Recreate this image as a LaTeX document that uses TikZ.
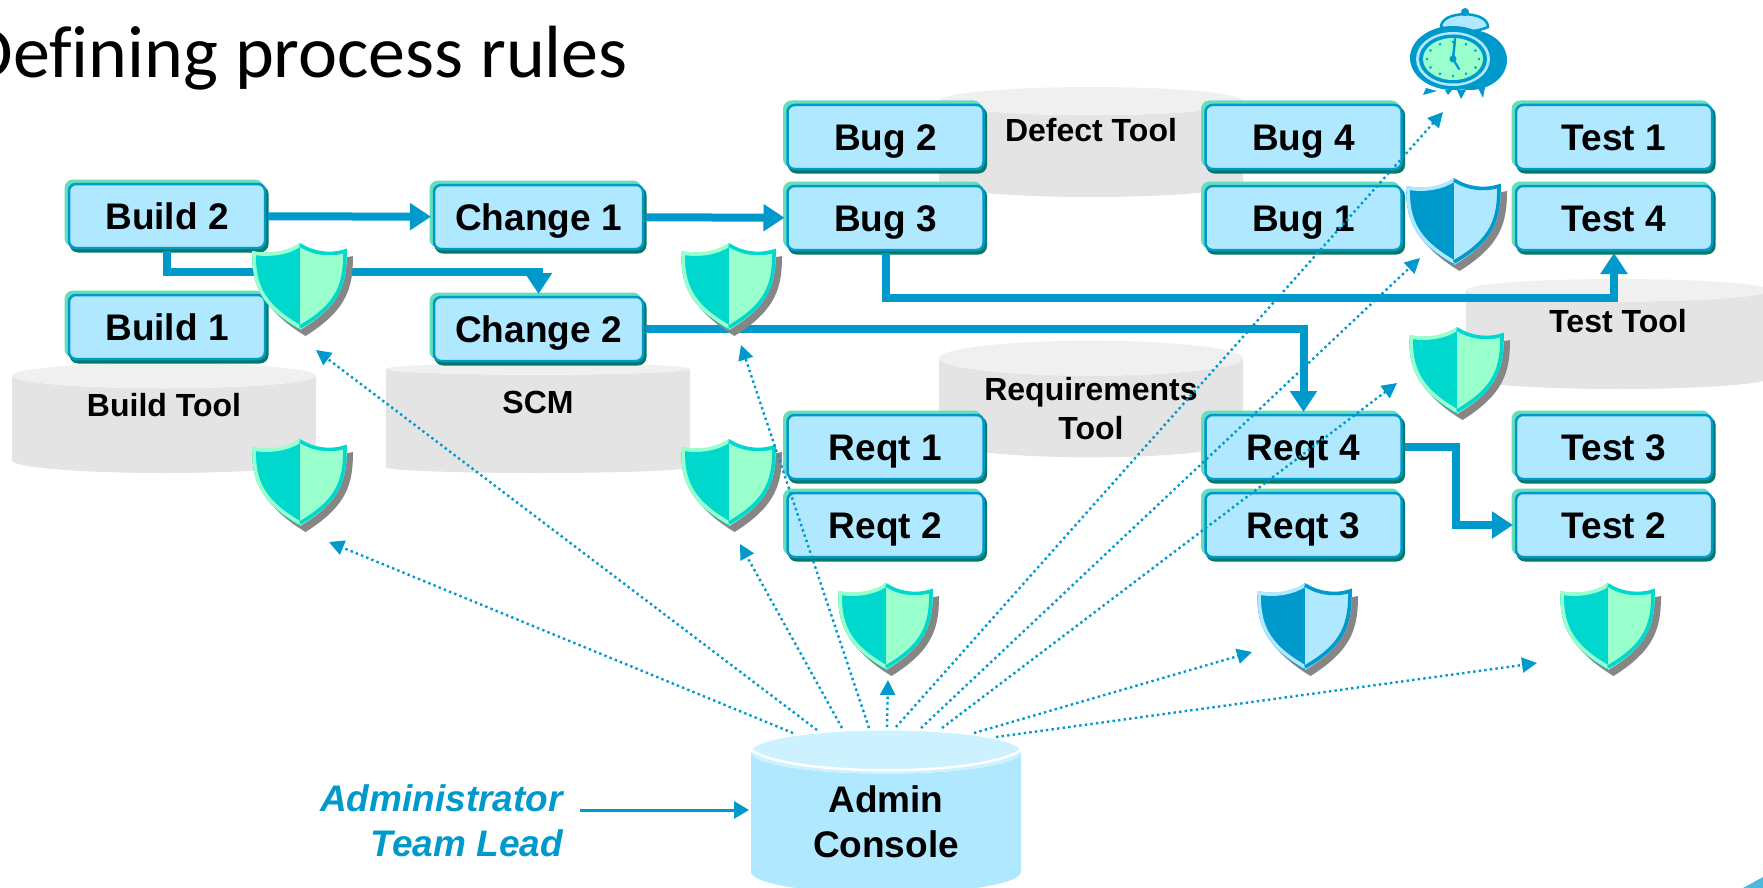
\documentclass[tikz,border=0pt]{standalone}
\usepackage{fontspec}
\setmainfont{Liberation Sans}
\newfontfamily\titlefont[Ligatures=NoCommon]{Carlito}
\usetikzlibrary{arrows.meta, calc, positioning, shapes.geometric}
\definecolor{flowblue}{HTML}{0099CC}
\definecolor{boxface}{HTML}{B0E8FF}
\definecolor{boxlight}{HTML}{66DDBB}
\definecolor{boxdark}{HTML}{007A66}
\definecolor{toolbody}{HTML}{E4E4E4}
\definecolor{toolend}{HTML}{F0F0F0}
\definecolor{adminend}{HTML}{CCF2FF}
\definecolor{shieldteal}{HTML}{00D8CE}
\definecolor{shieldmint}{HTML}{99FFCC}
\definecolor{shieldshade}{HTML}{868686}
\tikzset{
    stagebox/.style={rectangle, rounded corners=7pt, draw=flowblue, fill=boxface, line width=2.5pt,
        minimum width=196pt, minimum height=64pt, inner sep=0pt, outer sep=3pt, text height=26pt, text depth=0pt,
        font=\fontsize{37}{44}\selectfont\bfseries,
        preaction={draw=boxlight, fill=boxlight, line width=3pt, transform canvas={xshift=-3pt, yshift=3pt}},
        preaction={draw=boxdark, fill=boxdark, line width=3pt, transform canvas={xshift=2pt, yshift=-3pt}}},
    widebox/.style={stagebox, minimum width=209pt},
    toolcyl/.style={cylinder, shape border rotate=90, aspect=0.164, minimum width=304pt, minimum height=110pt,
        cylinder uses custom fill, cylinder body fill=toolbody, cylinder end fill=toolend, anchor=shape center,
        inner sep=0pt, outer sep=0pt, align=center, font=\fontsize{32}{39}\selectfont\bfseries},
    toolcap/.style={toolcyl, text height=24pt, text depth=40pt},
    flow/.style={draw=flowblue, line width=8pt, -{Triangle[length=21pt, width=26pt]}},
    watch/.style={draw=flowblue, line width=2.4pt, dash pattern=on 2.4pt off 3.2pt, -{Triangle[length=15pt, width=15pt]}},
    pics/guard/.style 2 args={code={
        \fill[shieldshade] (5.5,5) .. controls (-7,14) and (-25,17) .. (-43,13) .. controls (-43,45) and (-37,67) .. (5.5,93)
            .. controls (47,67) and (53,45) .. (53,13) .. controls (35,17) and (17,14) .. (5.5,5) -- cycle;
        \fill[#1] (0,0) .. controls (-12,9) and (-30,12) .. (-48,8) .. controls (-48,40) and (-42,62) .. (0,87) -- cycle;
        \fill[#2] (0,0) .. controls (12,9) and (30,12) .. (47,6) .. controls (47,40) and (42,62) .. (0,87) -- cycle;
        \draw[#2, line width=3.6pt] (0,2) .. controls (-12,10) and (-30,13) .. (-46,10) .. controls (-46,40) and (-40,61) .. (0,84);
        \draw[#1, line width=3.6pt] (0,2) .. controls (12,10) and (30,13) .. (45,8) .. controls (45,40) and (40,61) .. (0,84);
    }}
}
\begin{document}
\begin{tikzpicture}[x=1pt, y=-1pt]
    \useasboundingbox (0,0) rectangle (1763,888);
    \node[anchor=base east, inner sep=0pt, font=\fontsize{74}{88}\selectfont\titlefont] (title) at (628,78) {Defining process rules};

    % tools behind the boxes
    \node[toolcap] (buildtool) at (164,418) {Build Tool};
    \node[toolcap] (scmtool) at (538,418) {SCM};
    \node[toolcap] (defecttool) at (1091,142) {Defect Tool};
    \node[toolcyl, text height=64pt, text depth=0pt] (reqttool) at (1091,399) {Requirements\\Tool};
    \begin{scope}
        \clip (0,0) rectangle (1763,888);
        \node[toolcap, text depth=38pt] (testtool) at (1618,334) {Test Tool};
        \node[toolcyl, cylinder body fill=boxface, cylinder end fill=adminend, minimum width=270pt, aspect=0.296,
            minimum height=163pt, text height=70pt, font=\fontsize{37}{45}\selectfont\bfseries] (admin) at (886,812) {Admin\\Console};
    \end{scope}
    \draw[white, line width=2.5pt] (751,750) .. controls (790,777) and (982,777) .. (1021,750);

    \node[stagebox] (buildtwo) at (167,216) {Build 2};
    \node[stagebox] (buildone) at (167,327) {Build 1};
    \node[widebox] (changeone) at (538.5,217) {Change 1};
    \node[widebox] (changetwo) at (538.5,329) {Change 2};
    \node[stagebox] (bugtwo) at (885.5,137) {Bug 2};
    \node[stagebox] (bugthree) at (885.5,218) {Bug 3};
    \node[stagebox] (reqtone) at (885.5,447) {Reqt 1};
    \node[stagebox] (reqttwo) at (885.5,525) {Reqt 2};
    \node[stagebox] (bugfour) at (1303.5,137) {Bug 4};
    \node[stagebox] (bugone) at (1303.5,218) {Bug 1};
    \node[stagebox] (reqtfour) at (1303.5,447) {Reqt 4};
    \node[stagebox] (reqtthree) at (1303.5,525) {Reqt 3};
    \node[stagebox] (testone) at (1614,137) {Test 1};
    \node[stagebox] (testfour) at (1614,218) {Test 4};
    \node[stagebox] (testthree) at (1614,447) {Test 3};
    \node[stagebox] (testtwo) at (1614,525) {Test 2};

    % process flow
    \draw[flow] (buildtwo) -- (changeone);
    \draw[flow] (changeone) -- (bugthree);
    \draw[flow] (buildtwo.south) -- ++(0,21) -| (changetwo.north);
    \draw[flow] (bugthree.south) -- ++(0,45) -| (testfour.south);
    \draw[flow] (changetwo.east) -| (reqtfour.north);
    \draw[flow] (reqtfour.east) -- ++(51,0) |- (testtwo.west);

    \foreach \pos in {(300,243),(729,243),(300,439),(729,439),(886,583),(1457,327),(1608,583)}
        \pic at \pos {guard={shieldteal}{shieldmint}};
    \foreach \pos in {(1454,178),(1305,583)}
        \pic at \pos {guard={flowblue}{boxface}};

    % alarm clock
    \fill[flowblue] (1426,88) -- (1423,95) -- (1437,91) -- cycle (1445,90) -- (1448,95) -- (1452,90) -- cycle
        (1457,90) -- (1461,99) -- (1466,90) -- cycle (1477,86) -- (1483,98) -- (1486,82) -- cycle;
    \fill[flowblue] (1470,60) ellipse (37pt and 30pt);
    \draw[flowblue, fill=boxface, line width=2.5pt] (1441,27) .. controls (1441,10) and (1488,10) .. (1488,27) .. controls (1475,33) and (1453,33) .. (1441,27) -- cycle;
    \fill[flowblue] (1465,12) circle (4pt);
    \fill[flowblue] (1453,58) ellipse (43pt and 32pt);
    \fill[boxface] (1453,59) ellipse (37pt and 27pt);
    \fill[flowblue] (1453,59) ellipse (34pt and 24.5pt);
    \fill[shieldmint] (1453,59) ellipse (30pt and 21pt);
    \foreach \ang in {0,30,...,330}
        \fill[flowblue] ($(1453,59)+(\ang:26 and 17)$) circle (1.4pt);
    \draw[flowblue, line width=2.5pt, line cap=round] (1453,59) -- (1455,39);
    \draw[flowblue, line width=2.2pt, line cap=round] (1453,59) -- (1459,69);
    \fill[flowblue] (1453,59) circle (3.5pt);

    % rules reached from the console
    \coordinate (watchbuildlow) at (329,542);
    \coordinate (watchbuildhigh) at (316,350);
    \coordinate (watchscmlow) at (740,544);
    \coordinate (watchscmhigh) at (741,345);
    \coordinate (watchreqt) at (888,680);
    \coordinate (watchclock) at (1443,112);
    \coordinate (watchbug) at (1420,258);
    \coordinate (watchtest) at (1397,383);
    \coordinate (watchfix) at (1252,652);
    \coordinate (watchcheck) at (1537,663);
    \coordinate (consoletop) at (886,730);
    \foreach \target/\dx/\dy in {watchbuildlow/-93/3, watchbuildhigh/-69/0, watchscmlow/-44/-2, watchscmhigh/-17/-2, watchreqt/1/-3,
            watchclock/10/-3, watchbug/35/-2, watchtest/56/-2, watchfix/88/3, watchcheck/110/7}
        \draw[watch] ($(consoletop)+(\dx,\dy)$) -- (\target);

    \node[anchor=east, align=right, inner sep=0pt, inner xsep=17pt, text=flowblue, font=\fontsize{37}{45}\selectfont\bfseries\itshape] (lead) at (580,821) {Administrator\\Team Lead};
    \coordinate (leadline) at (749,810);
    \draw[draw=flowblue, line width=3pt, -{Triangle[length=15pt, width=17pt]}] (lead.east |- leadline) -- (leadline);

    \fill[flowblue!70] (1743,888) -- (1763,877) -- (1763,888) -- cycle;
\end{tikzpicture}
\end{document}
